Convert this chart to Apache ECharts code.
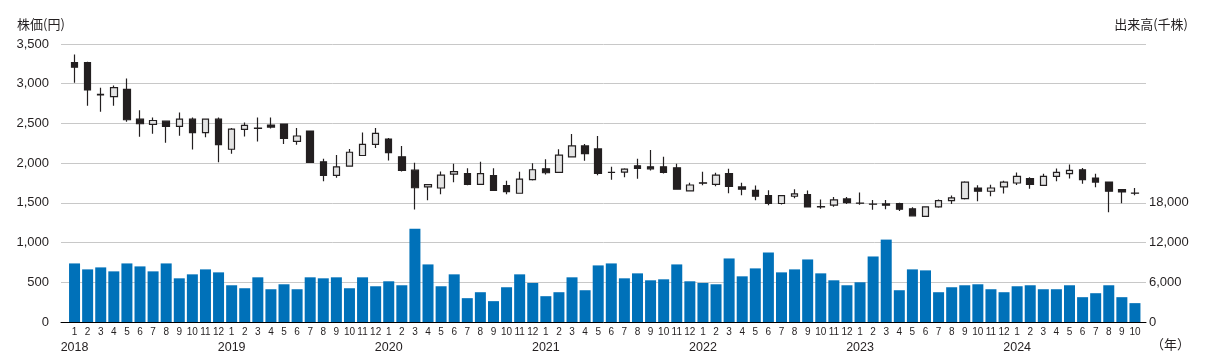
<!DOCTYPE html>
<html><head><meta charset="utf-8">
<script src="https://cdn.jsdelivr.net/npm/echarts@6/dist/echarts.min.js"></script>
<style>html,body{margin:0;padding:0;background:#fff}#c{width:1212px;height:357px}</style>
</head><body><div id="c"></div>
<script>
const months = ['1','2','3','4','5','6','7','8','9','10','11','12','1','2','3','4','5','6','7','8','9','10','11','12','1','2','3','4','5','6','7','8','9','10','11','12','1','2','3','4','5','6','7','8','9','10','11','12','1','2','3','4','5','6','7','8','9','10','11','12','1','2','3','4','5','6','7','8','9','10','11','12','1','2','3','4','5','6','7','8','9','10'];
const years = {0:'2018',12:'2019',24:'2020',36:'2021',48:'2022',60:'2023',72:'2024'};
const openP  = [3267,3267,2866,2837,2929,2554,2487,2529,2462,2554,2383,2554, 2175,2425,2440,2479,2492,2275,2404,2017,1846,1962,2096,2237, 2304,2079,1912,1700,1687,1862,1867,1733,1842,1717,1621,1792, 1929,1883,2079,2217,2179,1885,1887,1967,1954,1954,1942,1650, 1752,1733,1867,1700,1658,1592,1492,1583,1605,1452,1471,1550, 1498,1485,1487,1492,1425,1329,1450,1529,1554,1687,1646,1700, 1750,1804,1721,1833,1867,1917,1813,1762,1667,1623];
const closeP = [3208,2921,2860,2950,2546,2496,2537,2462,2554,2383,2554,2233, 2429,2475,2437,2454,2312,2342,2008,1846,1954,2137,2237,2375, 2133,1908,1690,1729,1850,1892,1733,1867,1658,1642,1800,1917, 1879,2100,2217,2121,1871,1883,1925,1933,1929,1883,1671,1725, 1748,1850,1708,1671,1583,1492,1592,1612,1448,1450,1537,1504, 1496,1483,1471,1421,1337,1450,1529,1562,1762,1646,1687,1762, 1833,1733,1833,1883,1908,1792,1762,1646,1638,1621];
const lowP   = [3012,2721,2646,2721,2521,2333,2371,2258,2346,2171,2325,2012, 2117,2337,2271,2437,2242,2233,2004,1771,1817,1954,2094,2192, 2033,1896,1415,1533,1608,1758,1721,1731,1656,1608,1619,1783, 1858,1881,2071,2029,1846,1792,1821,1804,1908,1871,1669,1648, 1721,1708,1621,1596,1533,1471,1479,1558,1446,1425,1450,1487, 1475,1412,1421,1396,1335,1325,1437,1487,1542,1521,1583,1617, 1725,1679,1719,1771,1808,1742,1696,1383,1496,1596];
const highP  = [3367,3275,2950,2979,3067,2667,2575,2537,2637,2575,2562,2575, 2442,2512,2575,2575,2495,2442,2406,2054,2104,2179,2387,2442, 2317,2217,2004,1737,1896,1992,1937,2017,1937,1779,1892,2000, 2050,2175,2367,2242,2342,1954,1937,2054,2167,2079,1992,1754, 1892,1879,1929,1754,1717,1658,1600,1671,1656,1542,1575,1575, 1629,1537,1537,1500,1446,1458,1542,1592,1771,1721,1729,1779, 1883,1821,1867,1933,1983,1938,1867,1764,1675,1688];
const volume = [8850,7950,8250,7650,8850,8400,7650,8850,6600,7200,7950,7500, 5550,5100,6750,4950,5700,4950,6750,6600,6750,5100,6750,5400, 6150,5550,14100,8700,5400,7200,3600,4500,3150,5250,7200,5900, 3900,4500,6750,4800,8550,8850,6600,7350,6300,6450,8700,6150, 5900,5700,9600,6900,8100,10500,7500,7950,9450,7350,6300,5550, 6000,9900,12450,4800,7950,7800,4500,5250,5550,5700,4950,4500, 5400,5550,4950,4950,5550,3750,4350,5550,3750,2850];

const candles = openP.map((o,i)=>[o, closeP[i], lowP[i], highP[i]]);
const FONT = '"Liberation Sans", Arial, sans-serif';
const CJK = '"Noto Sans CJK JP", sans-serif';
const chart = echarts.init(document.getElementById('c'), null, {renderer:'canvas'});
const fmt = v => v.toLocaleString('en-US');
chart.setOption({
  animation: false,
  backgroundColor: '#fff',
  grid: [
    {left: 61, right: 66, top: 44, bottom: 35},
    {left: 68, right: 70.5, top: 44, bottom: 35}
  ],
  xAxis: [
    {gridIndex: 0, type: 'value', min: 0, max: 1, axisLine: {show: true, onZero: false, lineStyle: {color: '#000', width: 1}}, axisTick: {show: false}, axisLabel: {show: false}, splitLine: {show: false}},
    {gridIndex: 1, type: 'category', data: months, boundaryGap: true,
     axisLine: {show: false}, axisTick: {show: false},
     axisLabel: {interval: 0, margin: 4, color: '#231f20', fontFamily: FONT, fontSize: 10,
       formatter: (v, i) => years[i] ? '{m|' + v + '}\n{y|' + years[i] + '}' : '{m|' + v + '}',
       rich: {m: {fontSize: 10, lineHeight: 12, align: 'center', fontFamily: FONT, color: '#231f20'},
              y: {fontSize: 12.5, lineHeight: 19, align: 'center', fontFamily: FONT, color: '#231f20'}}}}
  ],
  yAxis: [
    {gridIndex: 0, type: 'value', min: 0, max: 3500, interval: 500, position: 'left',
     axisLine: {show: false}, axisTick: {show: false},
     axisLabel: {margin: 12, color: '#231f20', fontFamily: FONT, fontSize: 13, formatter: fmt},
     splitLine: {lineStyle: {color: '#c8c8c8', width: 1}}},
    {gridIndex: 0, type: 'value', min: 0, max: 42000, interval: 6000, position: 'right',
     axisLine: {show: false}, axisTick: {show: false},
     axisLabel: {margin: 3, color: '#231f20', fontFamily: FONT, fontSize: 13, formatter: v => v <= 18000 ? fmt(v) : ''},
     splitLine: {show: false}},
    {gridIndex: 1, type: 'value', min: 0, max: 3500, show: false, splitLine: {show: false}},
    {gridIndex: 1, type: 'value', min: 0, max: 42000, show: false, splitLine: {show: false}}
  ],
  series: [
    {type: 'bar', xAxisIndex: 1, yAxisIndex: 3, data: volume, barWidth: 11,
     itemStyle: {color: '#0071b9'}, z: 2},
    {type: 'candlestick', xAxisIndex: 1, yAxisIndex: 2, data: candles, barWidth: 7,
     itemStyle: {color: '#e4e4e4', color0: '#231f20', borderColor: '#231f20', borderColor0: '#231f20', borderColorDoji: '#231f20', borderWidth: 1.2}, z: 3}
  ],
  graphic: [
    {type: 'text', left: 17, top: 18, style: {text: '株価(円)', font: '13px ' + CJK, fill: '#231f20'}},
    {type: 'text', right: 24, top: 18, style: {text: '出来高(千株)', font: '13px ' + CJK, fill: '#231f20'}},
    {type: 'text', right: 22, top: 338, style: {text: '（年）', font: '13px ' + CJK, fill: '#231f20'}}
  ]
});
</script></body></html>
